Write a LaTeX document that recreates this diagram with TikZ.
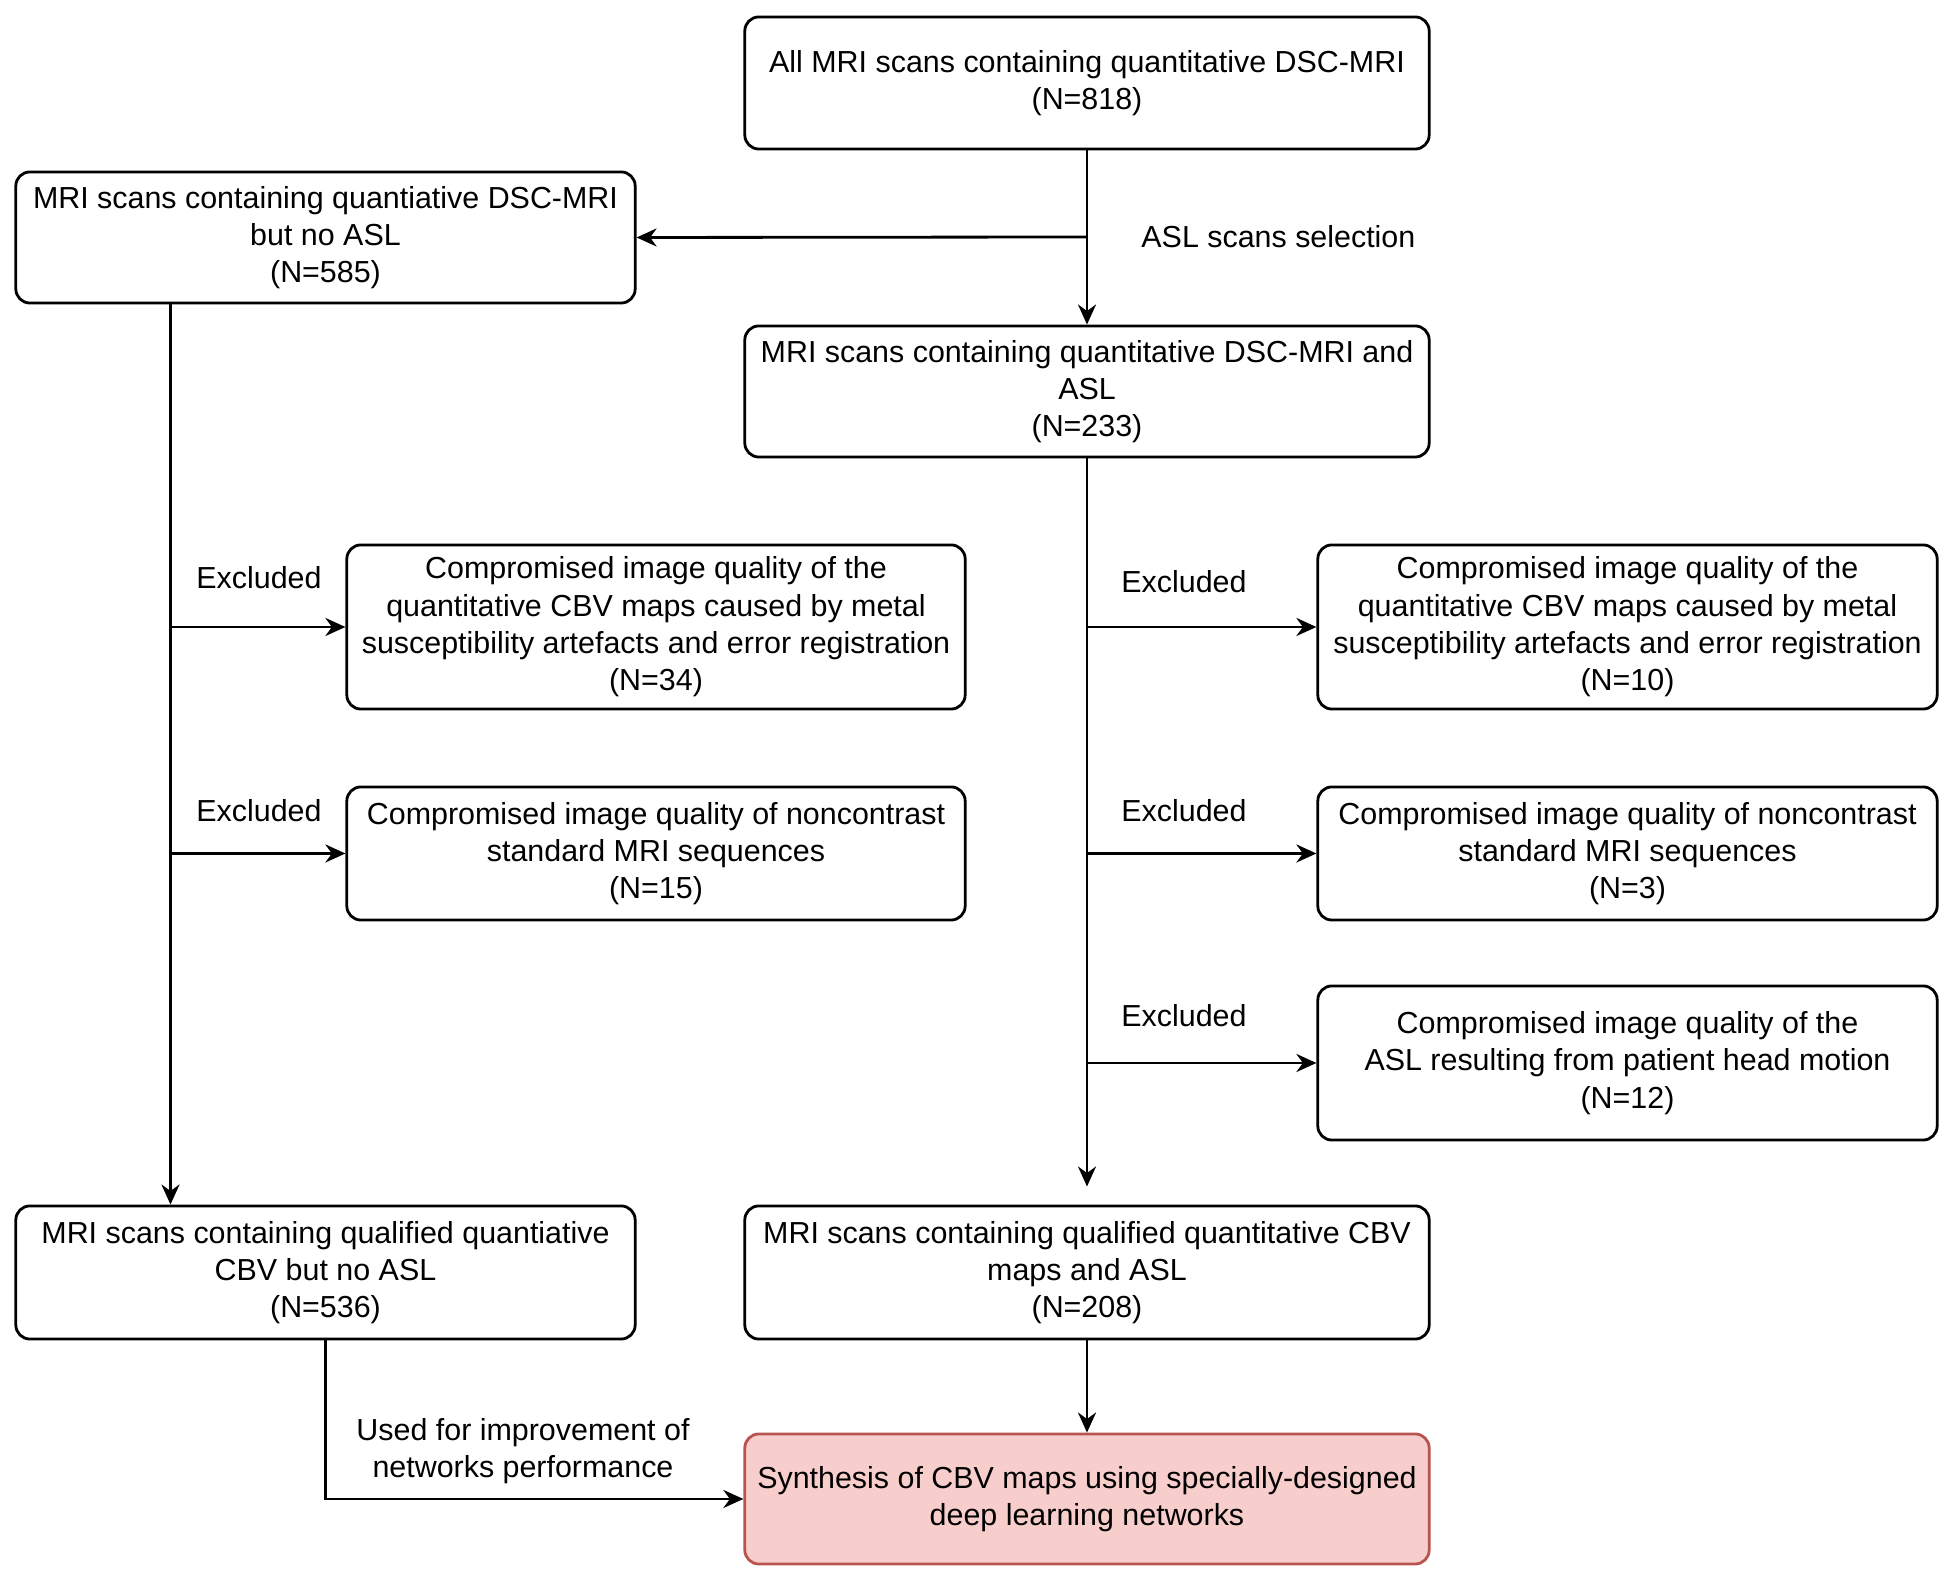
\documentclass[tikz,border=0pt]{standalone}
\usepackage{fontspec}
\setmainfont{Liberation Sans}
\usetikzlibrary{arrows.meta}
\definecolor{synthfill}{HTML}{F8CECC}
\definecolor{synthdraw}{HTML}{B85450}
\tikzset{
  stage/.style={draw, rounded corners=0.14cm, line width=0.8pt, align=center, inner sep=0pt},
  arr/.style={-{Stealth[length=0.2cm,width=0.18cm]}, line width=0.8pt},
}

\begin{document}
\begin{tikzpicture}[x=0.01cm, y=-0.01cm, font=\fontsize{8.65}{10.6}\selectfont]
            \useasboundingbox (0,0) rectangle (1953,1583);

            \node[stage, minimum width=6.84cm, minimum height=1.32cm] (all) at (1087,83) {All MRI scans containing quantitative DSC-MRI\\(N=818)};
            \node[stage, minimum width=6.19cm, minimum height=1.31cm] (noasl) at (325.5,237.5) {MRI scans containing quantiative DSC-MRI\\but no ASL\\(N=585)};
            \node[stage, minimum width=6.84cm, minimum height=1.31cm] (asl) at (1087,391.5) {MRI scans containing quantitative DSC-MRI and\\ASL\\(N=233)};
            \node[stage, minimum width=6.18cm, minimum height=1.64cm] (exla) at (656,627) {Compromised image quality of the\\quantitative CBV maps caused by metal\\susceptibility artefacts and error registration\\(N=34)};
            \node[stage, minimum width=6.18cm, minimum height=1.33cm] (exlb) at (656,853.5) {Compromised image quality of noncontrast\\standard MRI sequences\\(N=15)};
            \node[stage, minimum width=6.19cm, minimum height=1.64cm] (exra) at (1627.5,627) {Compromised image quality of the\\quantitative CBV maps caused by metal\\susceptibility artefacts and error registration\\(N=10)};
            \node[stage, minimum width=6.19cm, minimum height=1.33cm] (exrb) at (1627.5,853.5) {Compromised image quality of noncontrast\\standard MRI sequences\\(N=3)};
            \node[stage, minimum width=6.19cm, minimum height=1.54cm] (exrc) at (1627.5,1063) {Compromised image quality of the\\ASL resulting from patient head motion\\(N=12)};
            \node[stage, minimum width=6.19cm, minimum height=1.33cm] (qnoasl) at (325.5,1272.5) {MRI scans containing qualified quantiative\\CBV but no ASL\\(N=536)};
            \node[stage, minimum width=6.84cm, minimum height=1.33cm] (qasl) at (1087,1272.5) {MRI scans containing qualified quantitative CBV\\maps and ASL\\(N=208)};
            \node[stage, draw=synthdraw, fill=synthfill, minimum width=6.84cm, minimum height=1.30cm] (synth) at (1087,1499) {Synthesis of CBV maps using specially-designed\\deep learning networks};

            \node[anchor=west] (aslsel) at (1129,237) {ASL scans selection};
            \node (exl1) at (259,578) {Excluded};
            \node (exl2) at (259,811) {Excluded};
            \node (exr1) at (1184,582) {Excluded};
            \node (exr2) at (1184,811) {Excluded};
            \node (exr3) at (1184,1016) {Excluded};
            \node[align=center] (used) at (523,1451) {Used for improvement of\\networks performance};

            \coordinate (lx) at (170.5,303);
            \coordinate (sel) at (1087,237);

            \draw[arr] (all) -- (asl);
            \draw[arr] (sel) -- (noasl.east);
            \draw[arr] (noasl.south -| lx) -- (qnoasl.north -| lx);
            \draw[arr] (exla.west -| lx) -- (exla.west);
            \draw[arr] (exlb.west -| lx) -- (exlb.west);
            \draw[arr, shorten >=0.18cm] (asl) -- (qasl);
            \draw[arr] (exra.west -| asl.south) -- (exra.west);
            \draw[arr] (exrb.west -| asl.south) -- (exrb.west);
            \draw[arr] (exrc.west -| asl.south) -- (exrc.west);
            \draw[arr] (qasl) -- (synth);
            \draw[arr] (qnoasl.south) |- (synth.west);
        \end{tikzpicture}
\end{document}
